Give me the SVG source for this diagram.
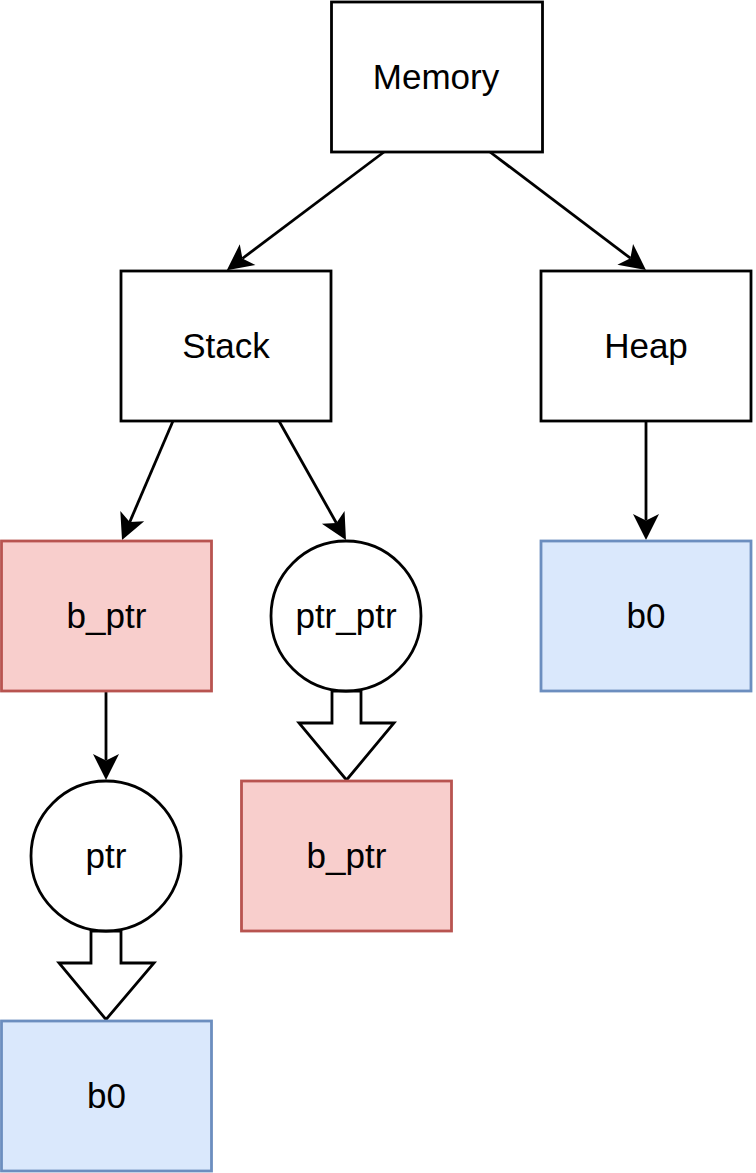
<svg xmlns="http://www.w3.org/2000/svg" width="756" height="1173" viewBox="0 0 756 1173">
  <style>
    .box { fill: #ffffff; stroke: #000000; stroke-width: 2.8; }
    .red { fill: #f8cecc; stroke: #b85450; stroke-width: 2.8; }
    .blue { fill: #dae8fc; stroke: #6c8ebf; stroke-width: 2.8; }
    .lbl { font-family: "Liberation Sans", Arial, Helvetica, sans-serif; font-size: 35px; fill: #000000; text-anchor: middle; }
    .edge { fill: none; stroke: #000000; stroke-width: 2.8; }
    .block { fill: #ffffff; stroke: #000000; stroke-width: 2.8; stroke-linejoin: miter; }
  </style>
  <defs>
    <marker id="arrow" markerUnits="userSpaceOnUse" viewBox="-8 -14 29 28" markerWidth="29" markerHeight="28" refX="0" refY="0" orient="auto">
      <path d="M19.5,0 L-6.5,-13 L0,0 L-6.5,13 Z" fill="#000000" stroke="none"/>
    </marker>
  </defs>
  <rect width="756" height="1173" fill="#ffffff"/>

  <g id="connectors">
    <line class="edge" x1="384" y1="152" x2="242.4" y2="258.5" marker-end="url(#arrow)"/>
    <line class="edge" x1="490" y1="152" x2="630.4" y2="258.2" marker-end="url(#arrow)"/>
    <line class="edge" x1="173" y1="421" x2="129.7" y2="522.1" marker-end="url(#arrow)"/>
    <line class="edge" x1="279" y1="421" x2="336.4" y2="523.0" marker-end="url(#arrow)"/>
    <line class="edge" x1="106" y1="691" x2="106" y2="760.5" marker-end="url(#arrow)"/>
    <line class="edge" x1="646" y1="421" x2="646" y2="520.5" marker-end="url(#arrow)"/>
    <polygon class="block" points="332,691 361,691 361,723 394,723 346.5,780 299,723 332,723"/>
    <polygon class="block" points="91,931 121,931 121,963 154,963 106,1019.5 59,963 91,963"/>
  </g>

  <g id="memory">
    <rect class="box" x="331.5" y="2" width="211" height="150"/>
    <text class="lbl" x="436" y="88.5">Memory</text>
  </g>
  <g id="stack">
    <rect class="box" x="121" y="271" width="210" height="150"/>
    <text class="lbl" x="226" y="357.5">Stack</text>
  </g>
  <g id="heap">
    <rect class="box" x="541" y="271" width="210" height="150"/>
    <text class="lbl" x="646" y="357.5">Heap</text>
  </g>
  <g id="b_ptr_1">
    <rect class="red" x="1.5" y="541" width="210" height="150"/>
    <text class="lbl" x="106.5" y="627.5">b_ptr</text>
  </g>
  <g id="ptr_ptr">
    <circle class="box" cx="346" cy="616" r="75"/>
    <text class="lbl" x="346" y="627.5">ptr_ptr</text>
  </g>
  <g id="b0_heap">
    <rect class="blue" x="541" y="541" width="210" height="150"/>
    <text class="lbl" x="646" y="627.5">b0</text>
  </g>
  <g id="ptr">
    <circle class="box" cx="106" cy="856" r="75"/>
    <text class="lbl" x="106" y="867.5">ptr</text>
  </g>
  <g id="b_ptr_2">
    <rect class="red" x="241.5" y="781" width="210" height="150"/>
    <text class="lbl" x="346.5" y="867.5">b_ptr</text>
  </g>
  <g id="b0_stack">
    <rect class="blue" x="1.5" y="1021" width="210" height="150"/>
    <text class="lbl" x="106.5" y="1107.5">b0</text>
  </g>
</svg>
